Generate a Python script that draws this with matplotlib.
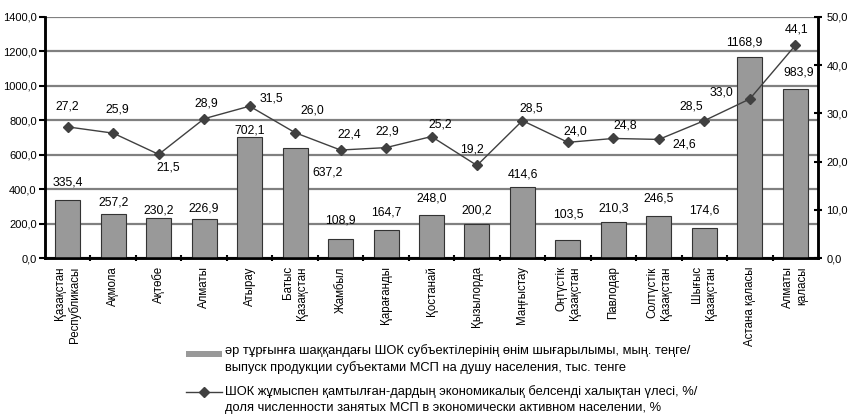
import matplotlib
matplotlib.use("Agg")
import matplotlib.pyplot as plt
from matplotlib.patches import Rectangle
from matplotlib.lines import Line2D
import numpy as np

plt.rcParams['font.family'] = ['Liberation Sans', 'DejaVu Sans']

# данные
regions = ["Қазақстан\nРеспубликасы", "Ақмола", "Ақтөбе", "Алматы", "Атырау",
           "Батыс\nҚазақстан", "Жамбыл", "Қарағанды", "Қостанай", "Қызылорда",
           "Маңғыстау", "Оңтүстік\nҚазақстан", "Павлодар", "Солтүстік\nҚазақстан",
           "Шығыс\nҚазақстан", "Астана қаласы", "Алматы\nқаласы"]
output_per_capita = [335.4, 257.2, 230.2, 226.9, 702.1, 637.2, 108.9, 164.7, 248.0,
                     200.2, 414.6, 103.5, 210.3, 246.5, 174.6, 1168.9, 983.9]
employment_share = [27.2, 25.9, 21.5, 28.9, 31.5, 26.0, 22.4, 22.9, 25.2, 19.2,
                    28.5, 24.0, 24.8, 24.6, 28.5, 33.0, 44.1]

# сдвиги подписей (пиксели)
bar_lbl_off = [(0, 18), (0, 11), (0, 8), (0, 10), (0, 7), (32, -24), (0, 19), (0, 17),
               (0, 17), (0, 13), (0, 12), (0, 26), (0, 13), (0, 17), (0, 17), (-5, 14), (3, 16)]
line_lbl_off = [(0, 20), (4, 24), (10, -13), (2, 15), (22, 8), (17, 22), (9, 16), (1, 16),
                (9, 12), (-5, 16), (9, 12), (7, 11), (12, 13), (25, -5), (-13, 14), (-28, 6), (1, 16)]

legend_bar = "әр тұрғынға шаққандағы ШОК субъектілерінің өнім шығарылымы, мың. теңге/\nвыпуск продукции субъектами МСП на душу населения, тыс. тенге"
legend_line = "ШОК жұмыспен қамтылған-дардың экономикалық белсенді халықтан үлесі, %/\nдоля численности занятых МСП в экономически активном населении, %"

def fmt(v):
    return f"{v:.1f}".replace(".", ",")

fig = plt.figure(figsize=(8.5, 4.16), dpi=100)
fig.subplots_adjust(left=45/850, right=818/850, top=1-17/416, bottom=1-258/416)
ax = fig.add_subplot(111)
ax2 = ax.twinx()

x = np.arange(len(regions))
ax.bar(x, output_per_capita, width=0.55, color="#999999", edgecolor="#333333",
       linewidth=0.8, zorder=3)
ax.set_ylim(0, 1400)
ax.set_xlim(-0.5, len(regions) - 0.5)
ax.set_yticks(np.arange(0, 1401, 200))
ax.set_yticklabels([fmt(v) for v in np.arange(0, 1401, 200)], fontsize=8)
ax.yaxis.grid(True, color="#808080", linewidth=1.6, zorder=0)
ax.set_axisbelow(True)

ax.set_xticks(x)
ax.set_xticklabels(regions, rotation=90, fontsize=8.3, multialignment="right")
ax.set_xticks(np.arange(0.5, len(regions) - 1, 1.0), minor=True)
ax.tick_params(axis="x", which="major", length=0, pad=6)
ax.tick_params(axis="x", which="minor", length=5, width=1.5, direction="inout", color="black")
ax.tick_params(axis="y", length=4, width=1.5, direction="out", pad=2)

for i, v in enumerate(output_per_capita):
    dx, dy = bar_lbl_off[i]
    ax.annotate(fmt(v), (i, v), xytext=(dx, dy), textcoords="offset pixels",
                ha="center", va="center", fontsize=8.8, zorder=5)

ax2.plot(x, employment_share, color="#404040", linewidth=1.0, marker="D",
         markersize=5.5, zorder=4)
ax2.set_ylim(0, 50)
ax2.set_yticks(np.arange(0, 51, 10))
ax2.set_yticklabels([fmt(v) for v in np.arange(0, 51, 10)], fontsize=8)
ax2.tick_params(axis="y", length=6, width=1.5, direction="inout", pad=3)

for i, v in enumerate(employment_share):
    dx, dy = line_lbl_off[i]
    ax2.annotate(fmt(v), (i, v), xytext=(dx, dy), textcoords="offset pixels",
                 ha="center", va="center", fontsize=8.8, zorder=5)

for a in (ax, ax2):
    a.spines["top"].set_visible(False)
    a.spines["left"].set_linewidth(1.8)
    a.spines["right"].set_linewidth(1.8)
    a.spines["bottom"].set_linewidth(1.8)

# легенда
W, H = 850, 416
fig.add_artist(Rectangle((186/W, 1-357/H), 36/W, 6/H, transform=fig.transFigure,
                         facecolor="#999999", edgecolor="none"))
fig.text(225/W, 1-344/H, legend_bar, fontsize=9.3, va="top", ha="left", linespacing=1.45)
fig.add_artist(Line2D([186/W, 222/W], [1-392/H, 1-392/H], transform=fig.transFigure,
                      color="#404040", linewidth=1.0))
fig.add_artist(Line2D([204/W], [1-392/H], transform=fig.transFigure, color="#404040",
                      marker="D", markersize=5.5))
fig.text(225/W, 1-385/H, legend_line, fontsize=9.3, va="top", ha="left", linespacing=1.45)

fig.savefig("out.png", dpi=100)
